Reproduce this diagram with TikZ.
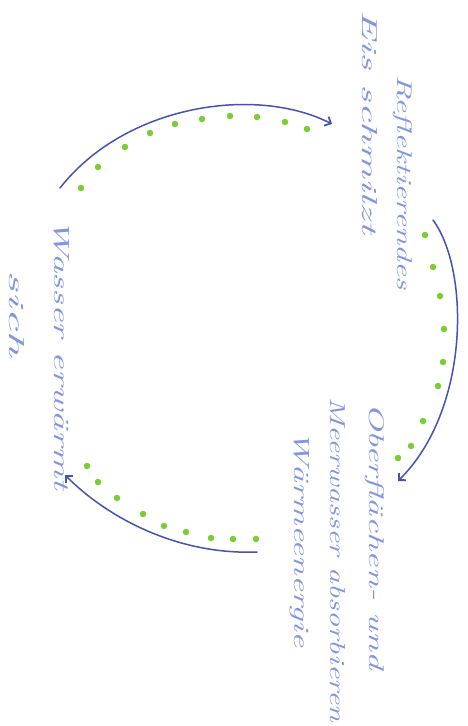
\documentclass[tikz,border=0pt]{standalone}
\usetikzlibrary{arrows.meta}
\definecolor{arrowblue}{HTML}{4652B4}
\definecolor{textblue}{HTML}{8494E4}
\definecolor{dotgreen}{HTML}{7CCC36}
\tikzset{
  flow/.style={draw=arrowblue, line width=1.5pt, line cap=round, -{Straight Barb[length=5pt,width=10pt,line width=1.8pt]}},
  hand/.style={text=textblue, rotate=-90, inner sep=0pt, font=\itshape},
  gdot/.style={fill=dotgreen, circle, inner sep=0pt, minimum size=6.5pt}
}
\newcommand{\hw}[2]{\resizebox{#1pt}{15pt}{#2}}
\begin{document}
\begin{tikzpicture}[x=1pt,y=-1pt]
\useasboundingbox[fill=white] (0,0) rectangle (467,726);
% texts
\node[hand, anchor=west] (t1) at (403,75) {\hw{215}{Reflektierendes}};
\node[hand, anchor=west] (t2) at (370,10) {\hw{224}{Eis schmilzt}};
\node[hand, anchor=west] (t3) at (375,403) {\hw{267}{Oberflächen- und}};
\node[hand, anchor=west] (t4) at (338,397) {\hw{325}{Meerwasser absorbieren}};
\node[hand, anchor=west] (t5) at (300,430) {\hw{217}{Wärmeenergie}};
\node[hand, anchor=west] (t6) at (62,218) {\hw{272}{Wasser erwärmt}};
\node[hand, anchor=west] (t7) at (17,270) {\hw{87}{sich}};
% arrows
\coordinate (a1s) at (60,188);
\coordinate (a1e) at (332,124);
\coordinate (a2s) at (433,220);
\coordinate (a2e) at (398,481);
\coordinate (a3s) at (257,552);
\coordinate (a3e) at (65,475);
\draw[flow] (a1s) .. controls (125,105) and (255,85) .. (a1e);
\draw[flow] (a2s) .. controls (470,270) and (470,410) .. (a2e);
\draw[flow] (a3s) .. controls (180,555) and (110,520) .. (a3e);
% dots top
\foreach \p [count=\i] in {(81,188),(98,167),(125,147),(150,133),(175,124),(202,119),(230,116),(257,117),(285,122),(307,129)}
  \node[gdot] (dt\i) at \p {};
% dots right
\foreach \p [count=\i] in {(425,235),(433,267),(440,296),(444,329),(443,362),(438,386),(423,421),(411,446),(398,458)}
  \node[gdot] (dr\i) at \p {};
% dots bottom
\foreach \p [count=\i] in {(87,466),(98,482),(117,498),(143,514),(164,526),(186,532),(211,538),(233,539),(256,539)}
  \node[gdot] (db\i) at \p {};
\end{tikzpicture}
\end{document}
